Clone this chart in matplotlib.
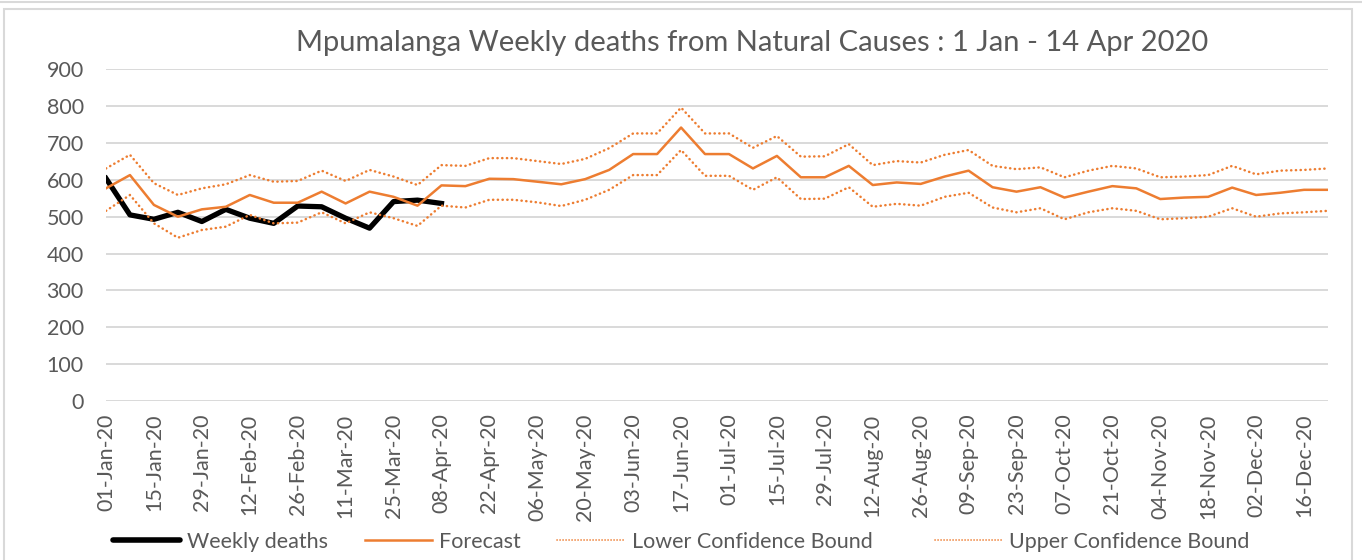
import matplotlib.pyplot as plt
import numpy as np
from matplotlib.patches import Rectangle
from matplotlib.lines import Line2D

plt.rcParams['font.family'] = ['Lato', 'DejaVu Sans']

# weekly values, 01-Jan-20 .. 23-Dec-20 (52 weeks)
weekly_deaths = [604, 505, 493, 512, 487, 520, 496, 482, 529, 527, 496, 469, 541, 545, 536]
forecast = [577, 613, 532, 500, 520, 527, 559, 538, 538, 568, 536, 568, 554, 530, 585, 583, 603,
            602, 595, 588, 602, 627, 670, 670, 742, 670, 670, 631, 665, 607, 607, 638, 586,
            593, 589, 609, 625, 580, 568, 580, 552, 568, 583, 577, 548, 552, 554, 579, 559, 565, 573, 573]
upper = [631, 668, 591, 559, 577, 588, 613, 595, 597, 625, 597, 627, 609, 586, 640, 638, 659,
         659, 651, 643, 657, 686, 726, 726, 796, 726, 726, 687, 719, 663, 664, 697, 640,
         651, 647, 668, 681, 638, 629, 634, 607, 625, 638, 631, 607, 609, 613, 638, 615, 625, 627, 631]
lower = [516, 559, 482, 443, 464, 473, 505, 482, 484, 512, 482, 512, 496, 475, 530, 525, 546,
         546, 539, 529, 546, 573, 613, 613, 681, 611, 611, 573, 607, 548, 549, 580, 527,
         535, 530, 554, 565, 525, 512, 523, 493, 512, 523, 516, 493, 496, 500, 523, 500, 509, 512, 516]
tick_labels = ['01-Jan-20', '15-Jan-20', '29-Jan-20', '12-Feb-20', '26-Feb-20', '11-Mar-20',
               '25-Mar-20', '08-Apr-20', '22-Apr-20', '06-May-20', '20-May-20', '03-Jun-20',
               '17-Jun-20', '01-Jul-20', '15-Jul-20', '29-Jul-20', '12-Aug-20', '26-Aug-20',
               '09-Sep-20', '23-Sep-20', '07-Oct-20', '21-Oct-20', '04-Nov-20', '18-Nov-20',
               '02-Dec-20', '16-Dec-20']

ORANGE = '#ED7D31'
GREY = '#595959'
FS = 15.5
W, H = 1362, 560

fig = plt.figure(figsize=(W / 100, H / 100), dpi=100)
ax = fig.add_axes([106 / W, 1 - 401 / H, (1328 - 106) / W, (401 - 69.3) / H])

x = np.arange(len(forecast))
dot = (0, (0.1, 1.8))
ax.plot(x[:len(weekly_deaths)], weekly_deaths, color='black', lw=3.8, solid_joinstyle='round', zorder=3)
ax.plot(x, forecast, color=ORANGE, lw=1.8, zorder=4)
ax.plot(x, lower, color=ORANGE, lw=1.8, ls=dot, dash_capstyle='round', zorder=4)
ax.plot(x, upper, color=ORANGE, lw=1.8, ls=dot, dash_capstyle='round', zorder=4)

ax.set_xlim(0, len(forecast) - 1)
ax.set_ylim(0, 900)
ax.set_yticks(range(0, 1000, 100))
ax.set_xticks(x[::2])
ax.set_xticklabels(tick_labels, rotation=90)
ax.yaxis.grid(True, color='#D9D9D9', lw=1.4)
ax.set_axisbelow(True)
for s in ax.spines.values():
    s.set_visible(False)
ax.tick_params(axis='both', length=0, labelsize=FS, labelcolor=GREY)
ax.tick_params(axis='y', pad=16)
ax.tick_params(axis='x', pad=9)

fig.text(752 / W, 1 - 43 / H, 'Mpumalanga Weekly deaths from Natural Causes : 1 Jan - 14 Apr 2020',
         ha='center', va='center', fontsize=21, color=GREY)

def dotted_handle():
    return Line2D([], [], color=ORANGE, lw=1.2, ls=(0, (0.1, 1.7)), dash_capstyle='round')

handles = [Line2D([], [], color='black', lw=4, solid_capstyle='round'),
           Line2D([], [], color=ORANGE, lw=1.8),
           dotted_handle(), dotted_handle()]
names = ['Weekly deaths', 'Forecast', 'Lower Confidence Bound', 'Upper Confidence Bound']

# Excel leaves a wider gap before the last entry, so two legends
for hs, ns, x0 in [(handles[:3], names[:3], 113), (handles[3:], names[3:], 935)]:
    leg = fig.legend(hs, ns, loc='center left', bbox_to_anchor=(x0 / W, 1 - 542 / H), ncol=len(hs),
                     frameon=False, fontsize=FS, handlelength=3.1, handletextpad=0.35,
                     columnspacing=1.7, borderpad=0, borderaxespad=0)
    for t in leg.get_texts():
        t.set_color(GREY)

# chart area border
fig.add_artist(Rectangle((3.5 / W, -0.05), (1351.5 - 3.5) / W, 1.05 - 8.5 / H,
                         transform=fig.transFigure, fill=False, ec='#D9D9D9', lw=1.5))
fig.add_artist(Line2D([0, 1], [1 - 1.5 / H, 1 - 1.5 / H], transform=fig.transFigure,
                      color='#D9D9D9', lw=1.5))

fig.savefig('out.png', dpi=100)
